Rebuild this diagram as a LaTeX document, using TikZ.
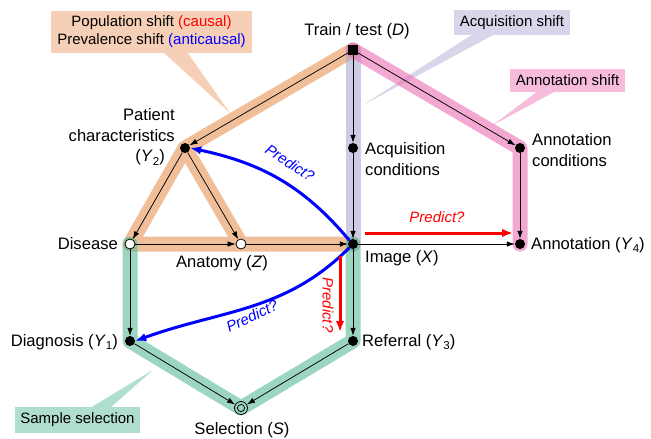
\documentclass[tikz,border=0pt]{standalone}
\usepackage{fontspec}
\setmainfont{Liberation Sans}
\usetikzlibrary{arrows.meta}
\definecolor{orbase}{RGB}{230,148,86}
\definecolor{pubase}{RGB}{170,170,210}
\definecolor{pkbase}{RGB}{235,110,180}
\definecolor{grbase}{RGB}{90,185,150}
\definecolor{orbox}{RGB}{245,208,182}
\definecolor{pubox}{RGB}{216,214,234}
\definecolor{pkbox}{RGB}{247,188,220}
\definecolor{grbox}{RGB}{176,222,206}
\definecolor{predred}{RGB}{255,0,0}
\definecolor{predblue}{RGB}{0,0,255}
\newcommand{\sbs}[1]{\raisebox{-0.4ex}{\fontsize{11.5}{11.5}\selectfont #1}}
\begin{document}
\begin{tikzpicture}[x=1pt,y=1pt,
  band/.style={line width=15pt, line cap=round, line join=round, opacity=.6},
  dotnode/.style={circle, fill=black, inner sep=0pt, minimum size=10pt},
  opennode/.style={circle, draw=black, fill=white, line width=.8pt, inner sep=0pt, minimum size=10pt},
  sqnode/.style={rectangle, fill=black, inner sep=0pt, minimum size=10pt},
  selnode/.style={circle, draw=black, line width=.8pt, inner sep=0pt, minimum size=13pt},
  conn/.style={-{Latex[length=8pt,width=5.5pt]}, line width=.75pt},
  pred/.style={-{Latex[length=11pt,width=8.5pt]}, line width=3pt},
  lbl/.style={font=\fontsize{16.6}{20.5}\selectfont, inner sep=0pt},
  clbl/.style={font=\fontsize{15}{18}\selectfont, inner sep=0pt, align=center},
  plbl/.style={font=\fontsize{15}{17}\selectfont\itshape, inner sep=0pt}
]
\useasboundingbox (0,0) rectangle (651,-439);

% callouts
\fill[orbox] (163,-52) -- (187,-52) -- (230,-113) -- cycle;
\node[clbl, fill=orbox, minimum width=201pt, minimum height=42pt] (cpop) at (151.5,-32)
  {Population shift {\color{predred}(causal)}\\Prevalence shift {\color{predblue}(anticausal)}};
\fill[pubox] (473,-34) -- (495,-34) -- (363,-105) -- cycle;
\node[clbl, fill=pubox, minimum width=116pt, minimum height=25pt] (cacq) at (512,-22.5) {Acquisition shift};
\fill[pkbox] (538,-91) -- (556,-91) -- (493,-125) -- cycle;
\node[clbl, fill=pkbox, minimum width=115pt, minimum height=23pt] (cann) at (567.5,-80.5) {Annotation shift};
\fill[grbox] (90,-408) -- (110,-408) -- (153,-370) -- cycle;
\node[clbl, fill=grbox, minimum width=125pt, minimum height=26pt] (csel) at (77.5,-420) {Sample selection};

% bands
\draw[band, orbase] (353,-50) -- (185,-148) -- (130,-244) -- (353,-244) (185,-148) -- (241,-244);
\draw[band, pubase] (353,-50) -- (353,-244);
\draw[band, pkbase] (353,-50) -- (520,-148) -- (520,-244);
\draw[band, grbase] (130,-244) -- (130,-341) -- (241,-408) -- (353,-341) -- (353,-244);

% nodes
\node[sqnode] (D) at (353,-50) {};
\node[dotnode] (AC) at (353,-148) {};
\node[dotnode] (X) at (353,-244) {};
\node[dotnode] (Y3) at (353,-341) {};
\node[dotnode] (NC) at (520,-148) {};
\node[dotnode] (Y4) at (520,-244) {};
\node[dotnode] (Y2) at (185,-148) {};
\node[opennode] (Dis) at (130,-244) {};
\node[opennode] (Z) at (241,-244) {};
\node[dotnode] (Y1) at (130,-341) {};
\node[selnode] (S) at (241,-408) {};
\draw[line width=.8pt] (S.center) circle (3.6pt);

% connectors
\draw[conn] (D) -- (AC);
\draw[conn] (AC) -- (X);
\draw[conn] (D) -- (NC);
\draw[conn] (NC) -- (Y4);
\draw[conn] (D) -- (Y2);
\draw[conn] (Y2) -- (Dis);
\draw[conn] (Y2) -- (Z);
\draw[conn] (Dis) -- (Z);
\draw[conn] (Z) -- (X);
\draw[conn] (X) -- (Y4);
\draw[conn] (X) -- (Y3);
\draw[conn] (Dis) -- (Y1);
\draw[conn] (Y1) -- (S);
\draw[conn] (Y3) -- (S);

% predict arrows
\coordinate (r1a) at (365,-233);
\coordinate (r1b) at (513,-233);
\coordinate (r2a) at (340,-256);
\coordinate (r2b) at (340,-332);
\draw[pred, predblue] (X.north west) to[out=130,in=-12] (Y2.east);
\draw[pred, predblue] (X.south west) to[out=225,in=20] (Y1.east);
\draw[pred, predred] (r1a) -- (r1b);
\draw[pred, predred] (r2a) -- (r2b);
\node[plbl, predblue, rotate=-33] (p1) at (290,-163) {Predict?};
\node[plbl, predblue, rotate=25] (p2) at (252,-316) {Predict?};
\node[plbl, predred] (p3) at (437,-217) {Predict?};
\node[plbl, predred, rotate=-90] (p4) at (328,-305) {Predict?};

% labels
\node[lbl] (tD) at (357,-31) {Train / test (\textit{D})};
\node[lbl, anchor=west, align=left] (tAC) at (365,-159) {Acquisition\\conditions};
\node[lbl, anchor=west, align=left] (tNC) at (532,-150) {Annotation\\conditions};
\node[lbl, anchor=west] (tY4) at (531,-245) {Annotation (\textit{Y}\sbs{4})};
\node[lbl, anchor=west] (tX) at (365,-258) {Image (\textit{X})};
\node[lbl, anchor=west] (tY3) at (362,-342) {Referral (\textit{Y}\sbs{3})};
\node[lbl, anchor=east] (tY1) at (118,-342) {Diagnosis (\textit{Y}\sbs{1})};
\node[lbl, anchor=east] (tDis) at (118,-244) {Disease};
\node[lbl] (tZ) at (222,-263) {Anatomy (\textit{Z})};
\node[lbl] (tS) at (242,-430) {Selection (\textit{S})};
\node[lbl, anchor=east, align=right] (tY2) at (175,-137) {Patient\\characteristics\\(\textit{Y}\sbs{2})\hspace*{10pt}};
\end{tikzpicture}
\end{document}
